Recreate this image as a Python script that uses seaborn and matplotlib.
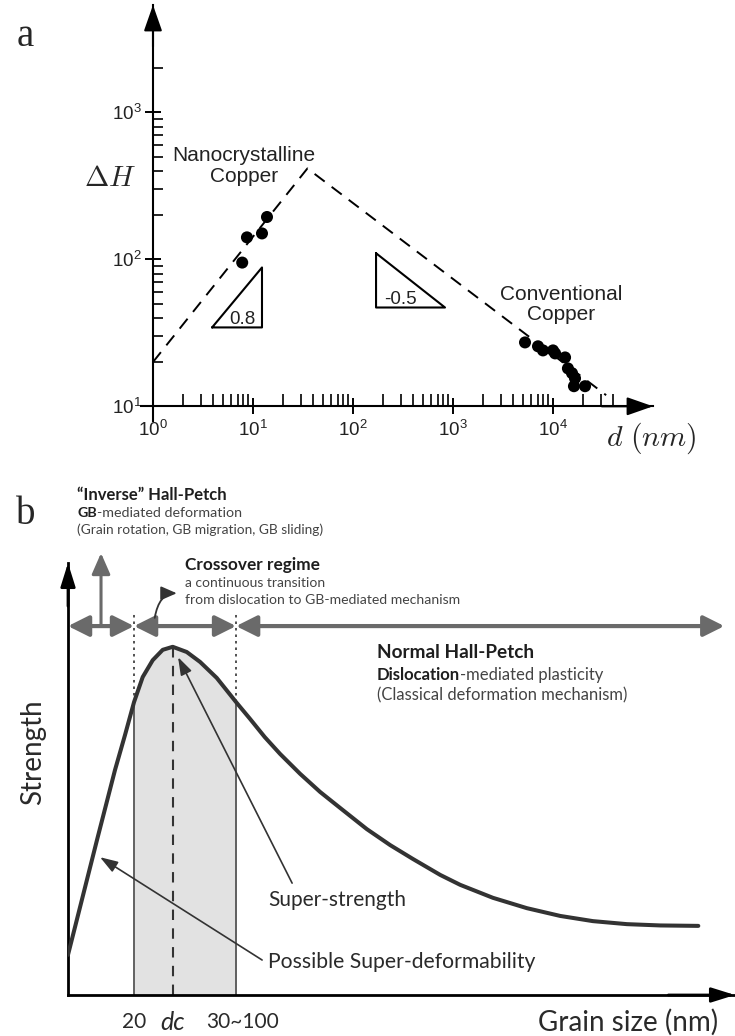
import matplotlib
matplotlib.use("Agg")
import matplotlib.pyplot as plt
import seaborn as sns
import numpy as np
from matplotlib.ticker import FixedLocator, NullFormatter

sns.set_theme(style="white")
plt.rcParams['font.family'] = ['Liberation Sans', 'DejaVu Sans']
plt.rcParams['mathtext.fontset'] = 'custom'
plt.rcParams['mathtext.rm'] = 'Liberation Sans'
plt.rcParams['mathtext.it'] = 'Liberation Sans:italic'
plt.rcParams['mathtext.bf'] = 'Liberation Sans:bold'

# ---------------- Panel a data ----------------
nano_d = [7.8, 8.7, 12.3, 13.8]
nano_h = [95, 141, 150, 194]
conv_d = [5250, 7080, 7940, 10000, 10500, 13200, 14100, 15500, 16600, 16200, 20900]
conv_h = [27.2, 25.6, 24.0, 24.0, 22.9, 21.5, 18.1, 16.8, 15.5, 13.7, 13.7]
fit_d = [1, 35, 34000]
fit_h = [20, 415, 11.9]
tri_up_d = [3.9, 12.3, 12.3, 3.9]
tri_up_h = [34.4, 34.4, 88, 34.4]
tri_dn_d = [170, 170, 832, 170]
tri_dn_h = [110, 47, 47, 110]
x_major = [1, 10, 100, 1000, 10000]
x_major_labels = [r'$\mathregular{10^{0}}$', r'$\mathregular{10^{1}}$', r'$\mathregular{10^{2}}$',
                  r'$\mathregular{10^{3}}$', r'$\mathregular{10^{4}}$']
y_major = [10, 100, 1000]
y_major_labels = [r'$\mathregular{10^{1}}$', r'$\mathregular{10^{2}}$', r'$\mathregular{10^{3}}$']
x_minor = [m * 10 ** e for e in range(0, 4) for m in range(2, 10)] + [20000, 30000, 40000]
y_minor = [m * 10 ** e for e in (1, 2) for m in range(2, 10)] + [2000]

# ---------------- Panel b data ----------------
grain = [0, 4.35, 7.05, 8.55, 9.9, 11.2, 12.7, 14.2, 15.7, 17.8, 19.8, 22.3, 25.2, 27.3,
         29.5, 31.8, 34.8, 37.8, 40.8, 44.8, 48.3, 51.7, 55.8, 58.8, 63.7, 68.8, 73.8,
         78.7, 83.8, 88.8, 94.5]
strength = [9.3, 35.9, 52.1, 60.2, 67.8, 73.6, 77.5, 79.9, 80.6, 79.4, 77.1, 73.4, 67.8, 63.9,
            59.7, 55.8, 51.2, 47.0, 43.3, 38.4, 34.7, 31.5, 27.8, 25.5, 22.5, 20.1, 18.3,
            17.1, 16.4, 16.1, 16.0]
d_low, d_c, d_high = 9.9, 15.7, 25.2
regime_spans = [(0, d_low), (d_low, d_high), (d_high, 98.4)]
regime_row = 85.4

W, H = 735, 1036
def fx(px): return px / W
def fy(py): return 1 - py / H

fig = plt.figure(figsize=(7.35, 10.36), dpi=100)
fig.patch.set_facecolor('white')

# ================= Panel a =================
ax = fig.add_axes([fx(141), fy(421), 512 / W, 416 / H])
ax.set_facecolor('none')
ax.set_xscale('log')
ax.set_yscale('log')

sns.lineplot(x=fit_d, y=fit_h, ax=ax, sort=False, estimator=None, color='black',
             lw=1.4, linestyle=(0, (6.5, 4.5)))
sns.scatterplot(x=nano_d, y=nano_h, ax=ax, color='black', s=75, edgecolor='none', zorder=3)
sns.scatterplot(x=conv_d, y=conv_h, ax=ax, color='black', s=75, edgecolor='none', zorder=3)
sns.lineplot(x=tri_up_d, y=tri_up_h, ax=ax, sort=False, estimator=None, color='black', lw=1.5)
sns.lineplot(x=tri_dn_d, y=tri_dn_h, ax=ax, sort=False, estimator=None, color='black', lw=1.5)

ax.set_xlim(10 ** -0.12, 10 ** 5.0)
ax.set_ylim(10 ** 0.9, 10 ** 3.73)
for s in ['top', 'right']:
    ax.spines[s].set_visible(False)
ax.spines['left'].set_position(('data', 1))
ax.spines['bottom'].set_position(('data', 10))
for s in ['left', 'bottom']:
    ax.spines[s].set_color('black')
    ax.spines[s].set_linewidth(1.5)

ax.xaxis.set_major_locator(FixedLocator(x_major))
ax.xaxis.set_ticklabels(x_major_labels)
ax.xaxis.set_minor_locator(FixedLocator(x_minor))
ax.xaxis.set_minor_formatter(NullFormatter())
ax.yaxis.set_major_locator(FixedLocator(y_major))
ax.yaxis.set_ticklabels(y_major_labels)
ax.yaxis.set_minor_locator(FixedLocator(y_minor))
ax.yaxis.set_minor_formatter(NullFormatter())
ax.tick_params(which='both', bottom=True, left=True, color='black')
ax.tick_params(axis='both', which='major', direction='inout', length=12, width=1.4,
               labelsize=13.5, labelcolor='#222')
ax.tick_params(axis='x', which='major', pad=4)
ax.tick_params(axis='y', which='major', pad=2)
ax.tick_params(axis='x', which='minor', direction='in', length=8.5, width=1.2)
ax.tick_params(axis='y', which='minor', direction='in', length=7, width=1.2)
ax.set_xlabel('')
ax.set_ylabel('')
ax.grid(False)

ah = dict(arrowstyle='-|>,head_length=0.8,head_width=0.28', color='black', lw=1.5,
          shrinkA=0, shrinkB=0, mutation_scale=20)
ax.annotate('', xy=(1, 1.0), xytext=(1, 0.9), xycoords=ax.get_xaxis_transform(),
            arrowprops=ah, annotation_clip=False)
ax.annotate('', xy=(1.0, 10), xytext=(0.9, 10), xycoords=ax.get_yaxis_transform(),
            arrowprops=ah, annotation_clip=False)

ax.text(8.1, 430, 'Nanocrystalline\nCopper', ha='center', va='center', fontsize=15,
        color='#222', linespacing=1.1)
ax.text(12000, 49.4, 'Conventional\nCopper', ha='center', va='center', fontsize=15,
        color='#222', linespacing=1.1)
ax.text(7.9, 39, '0.8', ha='center', va='center', fontsize=13.5, color='#222')
ax.text(295, 53.5, '-0.5', ha='center', va='center', fontsize=13.5, color='#222')

fig.text(fx(110), fy(178), r'$\Delta H$', ha='center', va='center', fontsize=21,
         math_fontfamily='cm')
fig.text(fx(651), fy(438), r'$d\ (nm)$', ha='center', va='center', fontsize=21.5,
         math_fontfamily='cm')
fig.text(fx(25), fy(36), 'a', ha='center', va='center', fontsize=28,
         family=['Liberation Serif'])
fig.text(fx(26), fy(514), 'b', ha='center', va='center', fontsize=28,
         family=['Liberation Serif'])

# ================= Panel b =================
LF = ['Lato', 'DejaVu Sans']
axb = fig.add_axes([fx(68), fy(995), (735 - 68) / W, (995 - 563) / H])
axb.set_facecolor('none')
g = np.array(grain)
st = np.array(strength)
mask = (g >= d_low) & (g <= d_high)
axb.fill_between(g[mask], st[mask], 0, color='#e2e2e2', lw=0, zorder=0)
s_low = float(np.interp(d_low, g, st))
s_high = float(np.interp(d_high, g, st))
s_peak = float(np.interp(d_c, g, st))
axb.vlines([d_low, d_high], 0, [s_low, s_high], color='#555555', lw=1.3, zorder=1)
axb.vlines([d_low, d_high], [s_low, s_high], 89, color='#444444', lw=1.3,
           linestyles=[(0, (1.4, 2.2))], zorder=1)
axb.vlines([d_c], 0, s_peak, color='#333333', lw=1.5, linestyles=[(0, (5, 4))], zorder=1)

sns.lineplot(x=grain, y=strength, ax=axb, sort=False, estimator=None, color='#333333',
             lw=2.9, zorder=3)
axb.lines[-1].set_solid_joinstyle('round')

axb.set_xlim(0, 100)
axb.set_ylim(0, 100)
for s in ['top', 'right']:
    axb.spines[s].set_visible(False)
for s in ['left', 'bottom']:
    axb.spines[s].set_color('black')
    axb.spines[s].set_linewidth(2)
axb.set_xticks([])
axb.set_yticks([])
axb.set_xlabel('')
axb.set_ylabel('')
axb.grid(False)

ahb = dict(arrowstyle='-|>,head_length=0.8,head_width=0.25', color='black', lw=2,
           shrinkA=0, shrinkB=0, mutation_scale=18)
axb.annotate('', xy=(0, 1.0), xytext=(0, 0.9), xycoords='axes fraction', arrowprops=ahb,
             annotation_clip=False)
axb.annotate('', xy=(1.0, 0), xytext=(0.9, 0), xycoords='axes fraction', arrowprops=ahb,
             annotation_clip=False)

for a, b in regime_spans:
    axb.annotate('', xy=(b, regime_row), xytext=(a, regime_row),
                 arrowprops=dict(arrowstyle='<|-|>,head_length=0.7,head_width=0.35',
                                 color='#6a6a6a', lw=3, shrinkA=0, shrinkB=0,
                                 mutation_scale=18), annotation_clip=False)
axb.annotate('', xy=(4.95, 102.3), xytext=(4.95, regime_row),
             arrowprops=dict(arrowstyle='-|>,head_length=0.8,head_width=0.35', color='#6a6a6a',
                             lw=2.2, shrinkA=0, shrinkB=0, mutation_scale=16),
             annotation_clip=False)
axb.annotate('', xy=(16.3, 93.0), xytext=(13.0, 87.3),
             arrowprops=dict(arrowstyle='-|>,head_length=0.8,head_width=0.35', color='#333333',
                             lw=1.3, shrinkA=0, shrinkB=0, mutation_scale=12,
                             connectionstyle='angle3,angleA=80,angleB=0'),
             annotation_clip=False)

arr = dict(arrowstyle='-|>,head_length=0.9,head_width=0.3', color='#333333', lw=1.2,
           shrinkA=0, shrinkB=0, mutation_scale=12)
axb.annotate('', xy=(16.5, 78.2), xytext=(33.6, 25.9), arrowprops=arr)
axb.annotate('', xy=(4.8, 31.9), xytext=(29.1, 8.1), arrowprops=arr)

dark = '#1e1e1e'
mid = '#444444'

def two_part(axis, x, y, bold, rest, size):
    t1 = axis.text(x, y, bold, fontsize=size, fontweight='bold', color=dark, family=LF,
                   ha='left', va='center')
    axis.annotate(rest, xy=(1, 0), xycoords=t1, fontsize=size, color=mid, family=LF,
                  ha='left', va='bottom')

axb.text(1.35, 115.7, '\u201cInverse\u201d Hall-Petch', fontsize=12, fontweight='bold',
         color=dark, family=LF, va='center')
two_part(axb, 1.35, 111.6, 'GB', '-mediated deformation', 10.3)
axb.text(1.35, 107.6, '(Grain rotation, GB migration, GB sliding)', fontsize=9.9,
         color=mid, family=LF, va='center')
axb.text(17.5, 99.5, 'Crossover regime', fontsize=12.4, fontweight='bold', color=dark,
         family=LF, va='center')
axb.text(17.5, 95.4, 'a continuous transition', fontsize=10, color=mid, family=LF,
         va='center')
axb.text(17.5, 91.4, 'from dislocation to GB-mediated mechanism', fontsize=10.1, color=mid,
         family=LF, va='center')
axb.text(46.3, 79.2, 'Normal Hall-Petch', fontsize=13.7, fontweight='bold', color=dark,
         family=LF, va='center')
two_part(axb, 46.3, 74.1, 'Dislocation', '-mediated plasticity', 12)
axb.text(46.3, 69.4, '(Classical deformation mechanism)', fontsize=11.9, color=mid,
         family=LF, va='center')

axb.text(30.0, 22.0, 'Super-strength', fontsize=15, color='#2a2a2a', family=LF,
         va='center')
axb.text(30.0, 7.6, 'Possible Super-deformability', fontsize=15.2, color='#2a2a2a',
         family=LF, va='center')

axb.text(d_low, -6.25, '20', fontsize=15, color='#2a2a2a', family=LF, ha='center',
         va='center')
axb.text(d_c, -6.25, 'dc', fontsize=18, fontstyle='italic', color='#2a2a2a', family=LF,
         ha='center', va='center')
axb.text(26.2, -6.25, '30~100', fontsize=15, color='#2a2a2a', family=LF, ha='center',
         va='center')
axb.text(97.5, -6.25, 'Grain size (nm)', fontsize=20, color='#2a2a2a', family=LF,
         ha='right', va='center')
fig.text(fx(33), fy(752), 'Strength', rotation=90, fontsize=20, color='#2a2a2a', family=LF,
         ha='center', va='center')

fig.savefig('out.png', dpi=100, facecolor='white')
